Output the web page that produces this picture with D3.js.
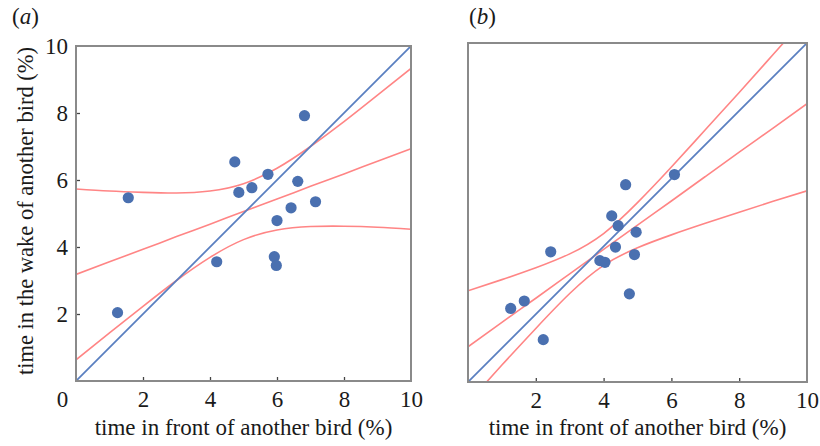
<!DOCTYPE html>
<html><head><meta charset="utf-8">
<script src="https://cdn.jsdelivr.net/npm/d3@7/dist/d3.min.js"></script>
<style>
body{margin:0;background:#fff;}
svg text{font-family:"Liberation Serif","Times New Roman",serif;fill:#1a1a1a;}
</style></head>
<body><svg id="c" width="820" height="446"></svg>
<script>
// ---- data ----
const xTicksA = [0, 2, 4, 6, 8, 10];
const yTicksA = [2, 4, 6, 8, 10];
const xTicksB = [2, 4, 6, 8, 10];
const xLabel = "time in front of another bird (%)";
const yLabel = "time in the wake of another bird (%)";

// panel (a) birds
const aFront = [1.56, 4.74, 4.86, 5.25, 5.73, 6.82, 6.62, 6.42, 7.15, 6.00, 1.24, 4.20, 5.92, 5.98];
const aWake  = [5.47, 6.54, 5.63, 5.77, 6.17, 7.92, 5.96, 5.17, 5.35, 4.79, 2.04, 3.56, 3.71, 3.45];
// panel (b) birds
const bFront = [1.26, 1.66, 2.44, 2.22, 3.89, 4.04, 4.35, 4.43, 4.96, 4.91, 4.76, 4.65, 4.24, 6.09];
const bWake  = [2.17, 2.39, 3.84, 1.25, 3.58, 3.53, 3.98, 4.61, 4.42, 3.76, 2.60, 5.82, 4.90, 6.12];

// regression line and confidence band, sampled along x
const bandX  = [0, 1, 2, 3, 4, 5, 6, 7, 8, 9, 10];
const aFit   = [3.18, 3.56, 3.93, 4.31, 4.68, 5.06, 5.43, 5.81, 6.18, 6.56, 6.93];
const aUpper = [5.73, 5.67, 5.63, 5.61, 5.67, 5.89, 6.35, 7.00, 7.74, 8.53, 9.33];
const aLower = [0.63, 1.44, 2.23, 3.00, 3.69, 4.22, 4.51, 4.61, 4.62, 4.59, 4.53];
const bFit   = [1.04, 1.76, 2.47, 3.19, 3.91, 4.63, 5.34, 6.06, 6.78, 7.49, 8.21];
const bUpper = [2.69, 3.02, 3.37, 3.78, 4.38, 5.29, 6.34, 7.44, 8.54, 9.66, 10.78];
const bLower = [-0.61, 0.50, 1.58, 2.61, 3.44, 3.96, 4.34, 4.68, 5.01, 5.33, 5.64];
// equality line y = x
const idX = [0, 10];
const idY = [0, 10];

// ---- drawing ----
const svg = d3.select("#c");
const dotColor = "#4a70b0", redColor = "#ff8585", blueColor = "#5a7fc0", frameColor = "#8a8a8a";
const FONT = "Liberation Serif, Times New Roman, serif";
const FS = 23, TFS = 23;

function panel(id, xr, yr, front, wake, fit, upper, lower, xTicks, yTicks, label, labelX) {
  const x = d3.scaleLinear().domain([0, 10]).range(xr);
  const y = d3.scaleLinear().domain([0, 10]).range(yr);
  const g = svg.append("g");
  g.append("clipPath").attr("id", "clip" + id).append("rect")
    .attr("x", xr[0]).attr("y", yr[1]).attr("width", xr[1] - xr[0]).attr("height", yr[0] - yr[1]);
  const inner = g.append("g").attr("clip-path", `url(#clip${id})`);

  const line = d3.line().x(d => x(d[0])).y(d => y(d[1])).curve(d3.curveNatural);
  [upper, fit, lower].forEach(arr => {
    inner.append("path").datum(bandX.map((v, i) => [v, arr[i]]))
      .attr("d", line).attr("fill", "none").attr("stroke", redColor).attr("stroke-width", 1.6);
  });
  inner.append("path").datum(idX.map((v, i) => [v, idY[i]]))
    .attr("d", d3.line().x(d => x(d[0])).y(d => y(d[1])))
    .attr("fill", "none").attr("stroke", blueColor).attr("stroke-width", 1.8);

  inner.selectAll("circle").data(front.map((v, i) => [v, wake[i]])).join("circle")
    .attr("cx", d => x(d[0])).attr("cy", d => y(d[1])).attr("r", 5.6).attr("fill", dotColor);

  // inward ticks
  const xt = g.append("g").attr("transform", `translate(0,${yr[0]})`)
    .call(d3.axisTop(x).tickValues(xTicks.filter(v => v > 0 && v < 10)).tickSize(4).tickFormat(""));
  xt.select(".domain").remove();
  xt.selectAll("line").attr("stroke", "#444").attr("stroke-width", 1.3);
  if (yTicks) {
    const yt = g.append("g").attr("transform", `translate(${xr[0]},0)`)
      .call(d3.axisRight(y).tickValues(yTicks.filter(v => v > 0 && v < 10)).tickSize(4).tickFormat(""));
    yt.select(".domain").remove();
    yt.selectAll("line").attr("stroke", "#444").attr("stroke-width", 1.3);
  }

  // frame
  g.append("rect").attr("x", xr[0]).attr("y", yr[1]).attr("width", xr[1] - xr[0]).attr("height", yr[0] - yr[1])
    .attr("fill", "none").attr("stroke", frameColor).attr("stroke-width", 2);

  // tick labels
  const xl = g.append("g").attr("transform", `translate(0,${yr[0]})`)
    .call(d3.axisBottom(x).tickValues(xTicks).tickSize(0).tickPadding(10).tickFormat(d3.format("d")));
  xl.select(".domain").remove();
  xl.attr("font-family", FONT).attr("font-size", TFS);
  xl.selectAll("text").attr("font-family", FONT).attr("font-size", TFS).attr("fill", "#1a1a1a")
    .attr("dx", d => d === 0 ? -14 : 0);
  if (yTicks) {
    const yl = g.append("g").attr("transform", `translate(${xr[0]},0)`)
      .call(d3.axisLeft(y).tickValues(yTicks).tickSize(0).tickPadding(8).tickFormat(d3.format("d")));
    yl.select(".domain").remove();
    yl.attr("font-family", FONT).attr("font-size", TFS);
    yl.selectAll("text").attr("font-family", FONT).attr("font-size", TFS).attr("fill", "#1a1a1a");
  }

  // axis title
  g.append("text").attr("x", (xr[0] + xr[1]) / 2).attr("y", 435).attr("text-anchor", "middle")
    .attr("font-size", FS).text(xLabel);

  // panel label
  const pl = g.append("text").attr("x", labelX).attr("y", 24).attr("font-size", FS);
  pl.append("tspan").text("(");
  pl.append("tspan").attr("font-style", "italic").text(label);
  pl.append("tspan").text(")");
  return {x, y};
}

panel("a", [76, 411], [381, 46], aFront, aWake, aFit, aUpper, aLower, xTicksA, yTicksA, "a", 12);
panel("b", [468, 807], [382, 43], bFront, bWake, bFit, bUpper, bLower, xTicksB, null, "b", 469);

svg.append("text").attr("transform", "translate(33,211) rotate(-90)").attr("text-anchor", "middle")
  .attr("font-size", 22.5).text(yLabel);
</script></body></html>
